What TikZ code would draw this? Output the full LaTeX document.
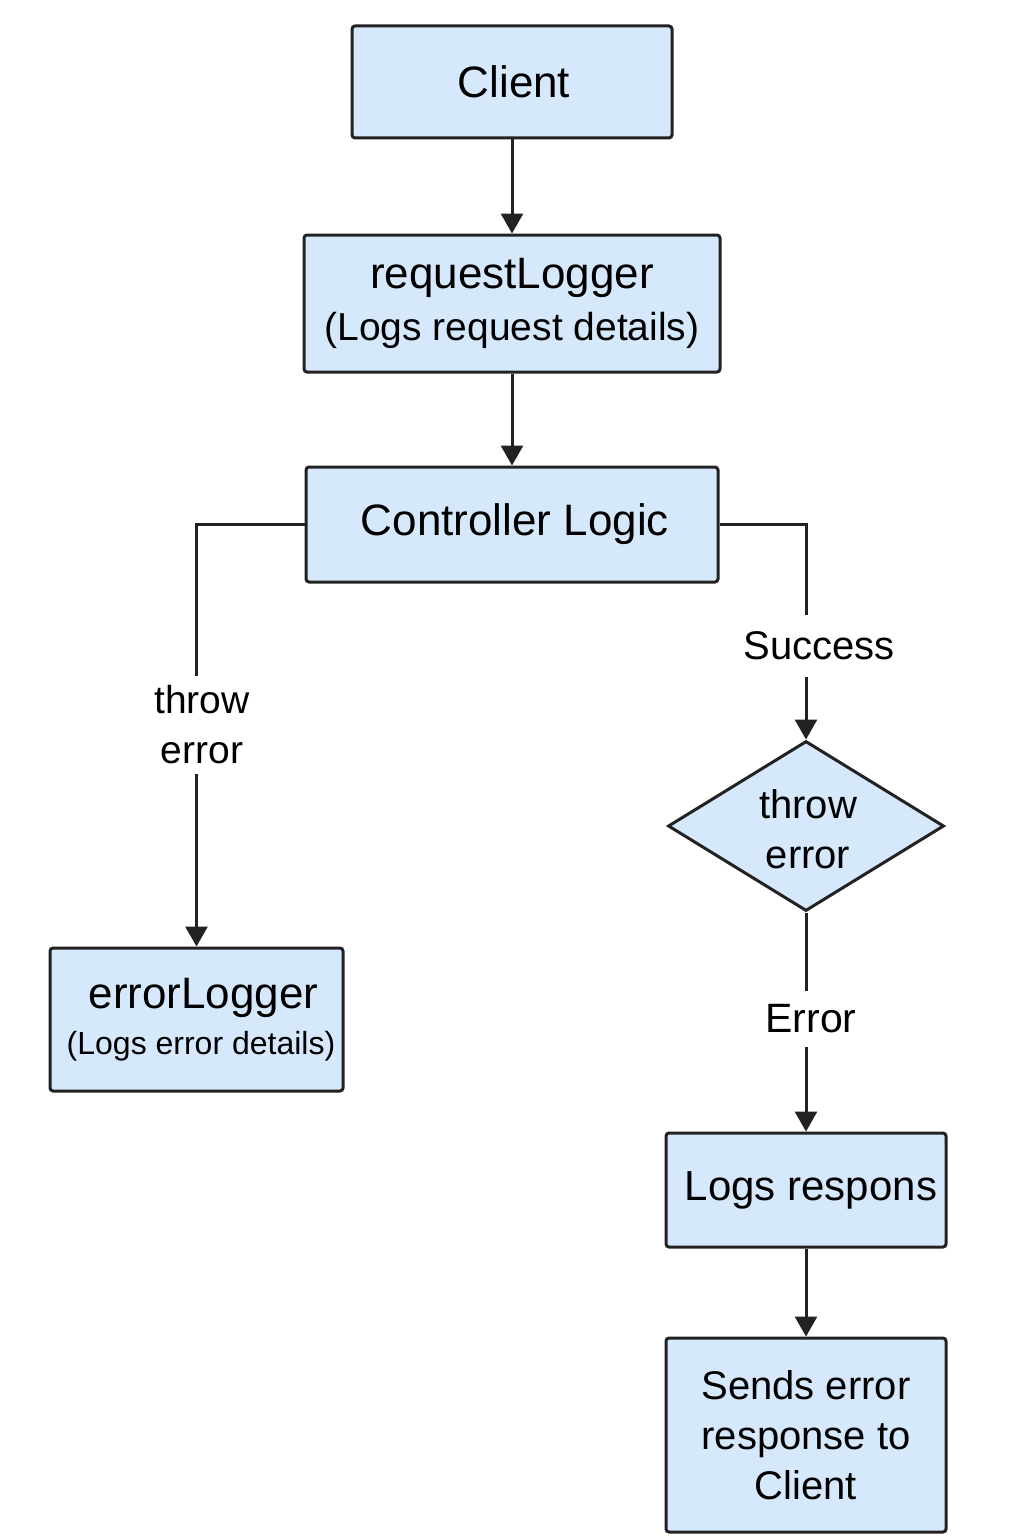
\documentclass[tikz,border=0pt]{standalone}
\usepackage{fontspec}
\setmainfont{Liberation Sans}
\usetikzlibrary{arrows.meta,shapes.geometric}
\definecolor{boxfill}{HTML}{D6E8FC}
\definecolor{ink}{HTML}{222222}
\tikzset{
  box/.style={draw=ink, fill=boxfill, line width=3pt, rounded corners=3pt, align=center, inner sep=0pt, text=black},
  conn/.style={draw=ink, line width=3pt, -{Triangle[length=20pt,width=22pt]}},
  lbl/.style={fill=white, align=center, inner xsep=4pt, text=black},
  big/.style={font=\fontsize{44}{52}\selectfont},
  mid/.style={font=\fontsize{40}{50}\selectfont},
}
\begin{document}
\begin{tikzpicture}[x=1pt,y=-1pt]
\useasboundingbox (0,0) rectangle (1024,1536);
\node[box, big, minimum width=320pt, minimum height=112pt] (client) at (512,82) {\hspace*{4pt}Client};
\node[box, font=\fontsize{44}{52}\selectfont, minimum width=416pt, minimum height=137pt, text depth=8pt] (rlog) at (512,303.5)
  {requestLogger\\{\fontsize{39}{52}\selectfont (Logs request details)}};
\node[box, big, minimum width=412pt, minimum height=115pt] (ctrl) at (512,524.5) {\hspace*{6pt}Controller Logic};
\node[box, font=\fontsize{44}{46}\selectfont, minimum width=293pt, minimum height=143pt] (elog) at (196.5,1019.5)
  {\hspace*{14pt}errorLogger\\\hspace*{9pt}{\fontsize{32}{46}\selectfont (Logs error details)}};
\node[draw=ink, fill=boxfill, line width=3pt, diamond, minimum width=276pt, minimum height=170pt, inner sep=0pt] (dec) at (806,826) {};
\node[mid, align=center, text=black] (dectext) at (808,829) {throw\\error};
\node[box, minimum width=280pt, minimum height=114pt] (lresp) at (806,1190)
  {\hspace*{10pt}{\fontsize{42}{50}\selectfont Logs respons}};
\node[box, mid, minimum width=280pt, minimum height=194pt] (send) at (806,1435)
  {Sends error\\response to\\Client};

\draw[conn] (client) -- (rlog);
\draw[conn] (rlog) -- (ctrl);
\draw[conn] (ctrl.west) -| (elog.north);
\draw[conn] (ctrl.east) -| (dec.north);
\draw[conn] (dec.south) -- (lresp.north);
\draw[conn] (lresp) -- (send);

\node[lbl, font=\fontsize{39}{50}\selectfont, inner ysep=10pt] (lthrow) at (202,725) {throw\\error};
\node[lbl, font=\fontsize{40}{48}\selectfont, inner ysep=17pt] (lsucc) at (819,646) {Success};
\node[lbl, font=\fontsize{41}{48}\selectfont, inner ysep=14pt] (lerr) at (811,1019) {Error};
\end{tikzpicture}
\end{document}
